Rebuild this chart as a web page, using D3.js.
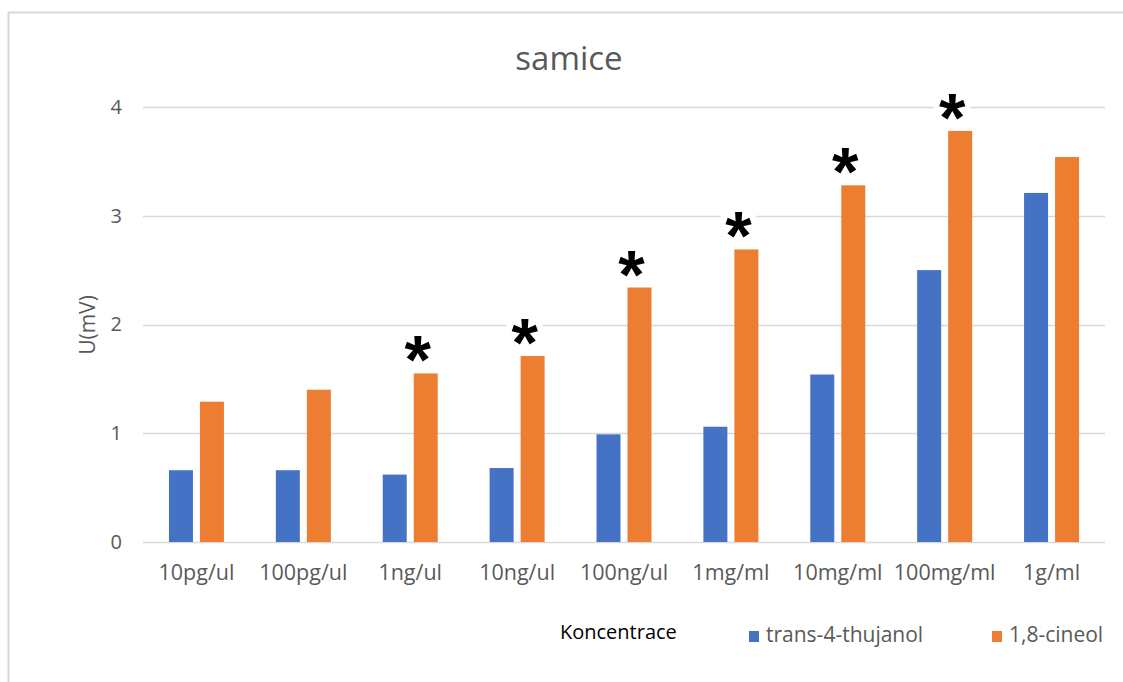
<!DOCTYPE html>
<html>
<head>
<meta charset="utf-8">
<script src="https://cdn.jsdelivr.net/npm/d3@7"></script>
<style>
  html, body { margin: 0; padding: 0; background: #fff; }
  svg { display: block; }
</style>
</head>
<body>
<svg id="chart" width="1123" height="682"></svg>
<script>
// ---- data ----
const categories = ["10pg/ul", "100pg/ul", "1ng/ul", "10ng/ul", "100ng/ul", "1mg/ml", "10mg/ml", "100mg/ml", "1g/ml"];
const seriesNames = ["trans-4-thujanol", "1,8-cineol"];
const thujanol = [0.66, 0.66, 0.62, 0.68, 0.99, 1.06, 1.54, 2.50, 3.21];
const cineol = [1.29, 1.40, 1.55, 1.71, 2.34, 2.69, 3.28, 3.78, 3.54];
const significant = [false, false, true, true, true, true, true, true, false];
const yTicks = [0, 1, 2, 3, 4];
const colors = ["#4472C4", "#ED7D31"];
const titleText = "samice";
const yLabel = "U(mV)";
const xLabel = "Koncentrace";

const svg = d3.select("#chart");
const font = "'Open Sans', 'Noto Sans', sans-serif";
const textGray = "#595959";

// chart border (only top/left visible in the crop)
svg.append("rect")
  .attr("x", 8.5).attr("y", 12.5)
  .attr("width", 1300).attr("height", 900)
  .attr("fill", "none").attr("stroke", "#d9d9d9").attr("stroke-width", 2);

const plot = { left: 143, right: 1105, top: 107, bottom: 542 };

const x0 = d3.scaleBand().domain(categories).range([plot.left, plot.right]).paddingInner(0).paddingOuter(0);
const x1 = d3.scaleBand().domain(seriesNames).range([0, x0.bandwidth()]).paddingInner(0.226).paddingOuter(0.837);
const y = d3.scaleLinear().domain([0, 4]).range([plot.bottom, plot.top]);

// gridlines
svg.append("g").selectAll("line").data(yTicks).join("line")
  .attr("x1", plot.left).attr("x2", plot.right)
  .attr("y1", d => Math.round(y(d)) + 0.5).attr("y2", d => Math.round(y(d)) + 0.5)
  .attr("stroke", "#d9d9d9").attr("stroke-width", 1.3);

// y axis labels
const yAxis = d3.axisLeft(y).tickValues(yTicks).tickSize(0).tickPadding(0).tickFormat(d3.format("d"));
const gy = svg.append("g").attr("transform", `translate(${plot.left - 21},0)`).call(yAxis);
gy.select(".domain").remove();
gy.selectAll("text").attr("font-family", font).attr("font-size", 20).attr("fill", textGray);

// x axis labels
const xAxis = d3.axisBottom(x0).tickSize(0).tickPadding(0);
const gx = svg.append("g").attr("transform", `translate(0,${plot.bottom + 23})`).call(xAxis);
gx.select(".domain").remove();
gx.selectAll("text").attr("font-family", font).attr("font-size", 21.5).attr("fill", textGray);

// bars
const seriesData = [thujanol, cineol];
const groups = svg.append("g").selectAll("g").data(categories).join("g")
  .attr("transform", d => `translate(${x0(d)},0)`);
groups.selectAll("rect")
  .data((c, i) => seriesNames.map((s, k) => ({ s, v: seriesData[k][i], k })))
  .join("rect")
  .attr("x", d => x1(d.s))
  .attr("width", x1.bandwidth())
  .attr("y", d => y(d.v))
  .attr("height", d => y(0) - y(d.v))
  .attr("fill", d => colors[d.k]);

// significance asterisks (with white text-box backgrounds)
const stars = svg.append("g");
categories.forEach((c, i) => {
  if (!significant[i]) return;
  const cx = x0(c) + x1(seriesNames[1]) + x1.bandwidth() / 2 - 8;
  const cy = y(cineol[i]) - 23;
  stars.append("rect")
    .attr("x", cx - 18).attr("y", cy - 17).attr("width", 36).attr("height", 31)
    .attr("fill", "#fff");
  stars.append("text")
    .attr("x", cx).attr("y", cy + 33)
    .attr("text-anchor", "middle")
    .attr("font-family", "'Liberation Sans', Arial, sans-serif")
    .attr("font-weight", "bold")
    .attr("font-size", 68)
    .attr("fill", "#000")
    .text("*");
});

// title
svg.append("text")
  .attr("x", 569).attr("y", 70)
  .attr("text-anchor", "middle")
  .attr("font-family", font).attr("font-size", 33).attr("fill", textGray)
  .text(titleText);

// y-axis title
svg.append("text")
  .attr("transform", "translate(95,325) rotate(-90)")
  .attr("text-anchor", "middle")
  .attr("font-family", font).attr("font-size", 21).attr("fill", textGray)
  .text(yLabel);

// x-axis title
svg.append("text")
  .attr("x", 560).attr("y", 639)
  .attr("font-family", font).attr("font-size", 20).attr("fill", "#000")
  .text(xLabel);

// legend
const legendPos = [749, 992];
const legend = svg.append("g");
seriesNames.forEach((s, k) => {
  legend.append("rect")
    .attr("x", legendPos[k]).attr("y", 631).attr("width", 10).attr("height", 11)
    .attr("fill", colors[k]);
  legend.append("text")
    .attr("x", legendPos[k] + 17).attr("y", 642)
    .attr("font-family", font).attr("font-size", 21).attr("fill", textGray)
    .text(s);
});
</script>
</body>
</html>
